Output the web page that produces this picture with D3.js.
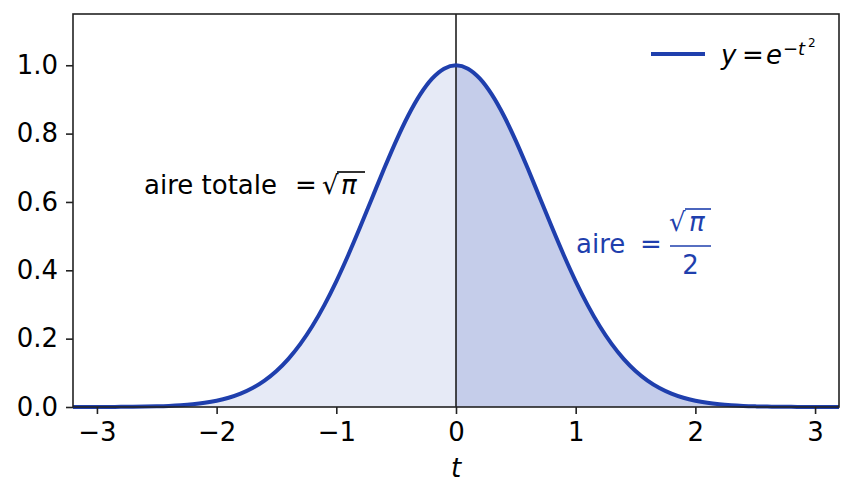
<!DOCTYPE html>
<html>
<head>
<meta charset="utf-8">
<script src="https://cdn.jsdelivr.net/npm/d3@7"></script>
<style>
  body { margin: 0; background: #fff; }
  svg text { font-family: "DejaVu Sans", sans-serif; }
</style>
</head>
<body>
<svg id="chart" width="854" height="499"></svg>
<script>
var tValues = [-3.2,-3.1,-3.0,-2.9,-2.8,-2.7,-2.6,-2.5,-2.4,-2.3,-2.2,-2.1,-2.0,-1.9,-1.8,-1.7,-1.6,-1.5,-1.4,-1.3,-1.2,-1.1,-1.0,-0.9,-0.8,-0.7,-0.6,-0.5,-0.4,-0.3,-0.2,-0.1,
  0.0,0.1,0.2,0.3,0.4,0.5,0.6,0.7,0.8,0.9,1.0,1.1,1.2,1.3,1.4,1.5,1.6,1.7,1.8,1.9,2.0,2.1,2.2,2.3,2.4,2.5,2.6,2.7,2.8,2.9,3.0,3.1,3.2];
var yValues = [0.00004,0.00007,0.00012,0.00022,0.00039,0.00068,0.00116,0.00193,0.00315,0.00504,0.00791,0.01216,0.01832,0.02705,0.03916,0.05558,0.07730,0.10540,0.14086,0.18452,0.23693,0.29820,0.36788,0.44486,0.52729,0.61263,0.69768,0.77880,0.85214,0.91393,0.96079,0.99005,
  1.0,0.99005,0.96079,0.91393,0.85214,0.77880,0.69768,0.61263,0.52729,0.44486,0.36788,0.29820,0.23693,0.18452,0.14086,0.10540,0.07730,0.05558,0.03916,0.02705,0.01832,0.01216,0.00791,0.00504,0.00315,0.00193,0.00116,0.00068,0.00039,0.00022,0.00012,0.00007,0.00004];
var xTicks = [-3, -2, -1, 0, 1, 2, 3];
var yTicks = [0, 0.2, 0.4, 0.6, 0.8, 1.0];

var blue = "#1f3fad";
var fs = 26;
var svg = d3.select("#chart");
var pLeft = 73, pRight = 839, pTop = 14, pBottom = 407;

var x = d3.scaleLinear().domain([-3.2, 3.2]).range([pLeft, pRight]);
var y = d3.scaleLinear().domain([0, 1.15]).range([pBottom, pTop]);

var pts = tValues.map(function (t, i) { return { t: t, y: yValues[i] }; });
var leftPts = pts.filter(function (d) { return d.t <= 0; });
var rightPts = pts.filter(function (d) { return d.t >= 0; });

var area = d3.area()
  .x(function (d) { return x(d.t); })
  .y0(y(0))
  .y1(function (d) { return y(d.y); })
  .curve(d3.curveMonotoneX);

var line = d3.line()
  .x(function (d) { return x(d.t); })
  .y(function (d) { return y(d.y); })
  .curve(d3.curveMonotoneX);

svg.append("path").attr("d", area(leftPts)).attr("fill", blue).attr("fill-opacity", 0.11);
svg.append("path").attr("d", area(rightPts)).attr("fill", blue).attr("fill-opacity", 0.26);

// vertical line at t = 0
svg.append("line")
  .attr("x1", x(0)).attr("x2", x(0))
  .attr("y1", pTop).attr("y2", pBottom)
  .attr("stroke", "#111").attr("stroke-width", 1.5);

svg.append("path").attr("d", line(pts))
  .attr("fill", "none").attr("stroke", blue).attr("stroke-width", 4);

// axes
var xAxis = svg.append("g").attr("transform", "translate(0," + pBottom + ")")
  .call(d3.axisBottom(x).tickValues(xTicks).tickSize(7).tickPadding(9)
    .tickFormat(function (d) { return d < 0 ? "\u2212" + Math.abs(d) : d; }));
var yAxis = svg.append("g").attr("transform", "translate(" + pLeft + ",0)")
  .call(d3.axisLeft(y).tickValues(yTicks).tickSize(7).tickPadding(8).tickFormat(d3.format(".1f")));

[xAxis, yAxis].forEach(function (g) {
  g.select(".domain").remove();
  g.selectAll(".tick line").attr("stroke", "#222").attr("stroke-width", 1.6);
  g.selectAll("text").attr("font-size", fs).attr("fill", "#000").attr("font-family", "DejaVu Sans");
});

// frame
svg.append("rect")
  .attr("x", pLeft).attr("y", pTop).attr("width", pRight - pLeft).attr("height", pBottom - pTop)
  .attr("fill", "none").attr("stroke", "#222").attr("stroke-width", 1.6);

// x label
svg.append("text").attr("x", x(0)).attr("y", 477).attr("text-anchor", "middle")
  .attr("font-size", fs).attr("font-style", "italic").text("t");

// annotation left: aire totale = sqrt(pi)
svg.append("text").attr("x", 144).attr("y", 194).attr("font-size", fs).text("aire totale");
svg.append("text").attr("x", 295).attr("y", 194).attr("font-size", fs).text("=");
svg.append("text").attr("x", 322).attr("y", 194).attr("font-size", fs).text("\u221A");
svg.append("text").attr("x", 341).attr("y", 194).attr("font-size", fs).attr("font-style", "italic").text("\u03C0");
svg.append("line").attr("x1", 337).attr("x2", 365).attr("y1", 172).attr("y2", 172)
  .attr("stroke", "#000").attr("stroke-width", 1.6);

// annotation right: aire = sqrt(pi)/2
svg.append("text").attr("x", 576).attr("y", 253).attr("font-size", fs).attr("fill", blue).text("aire");
svg.append("text").attr("x", 640).attr("y", 253).attr("font-size", fs).attr("fill", blue).text("=");
svg.append("text").attr("x", 669).attr("y", 231).attr("font-size", fs).attr("fill", blue).text("\u221A");
svg.append("text").attr("x", 689).attr("y", 231).attr("font-size", fs).attr("fill", blue)
  .attr("font-style", "italic").text("\u03C0");
svg.append("line").attr("x1", 685).attr("x2", 711).attr("y1", 209).attr("y2", 209)
  .attr("stroke", blue).attr("stroke-width", 1.6);
svg.append("line").attr("x1", 670).attr("x2", 711).attr("y1", 246).attr("y2", 246)
  .attr("stroke", blue).attr("stroke-width", 1.6);
svg.append("text").attr("x", 690.5).attr("y", 274).attr("text-anchor", "middle")
  .attr("font-size", fs).attr("fill", blue).text("2");

// legend
svg.append("line").attr("x1", 651).attr("x2", 705).attr("y1", 54).attr("y2", 54)
  .attr("stroke", blue).attr("stroke-width", 4);
svg.append("text").attr("x", 721).attr("y", 64).attr("font-size", fs).attr("font-style", "italic").text("y");
svg.append("text").attr("x", 742).attr("y", 64).attr("font-size", fs).text("=");
svg.append("text").attr("x", 766).attr("y", 64).attr("font-size", fs).attr("font-style", "italic").text("e");
svg.append("text").attr("x", 783).attr("y", 55).attr("font-size", 18).text("\u2212");
svg.append("text").attr("x", 798).attr("y", 55).attr("font-size", 18).attr("font-style", "italic").text("t");
svg.append("text").attr("x", 808).attr("y", 47).attr("font-size", 12).text("2");
</script>
</body>
</html>
